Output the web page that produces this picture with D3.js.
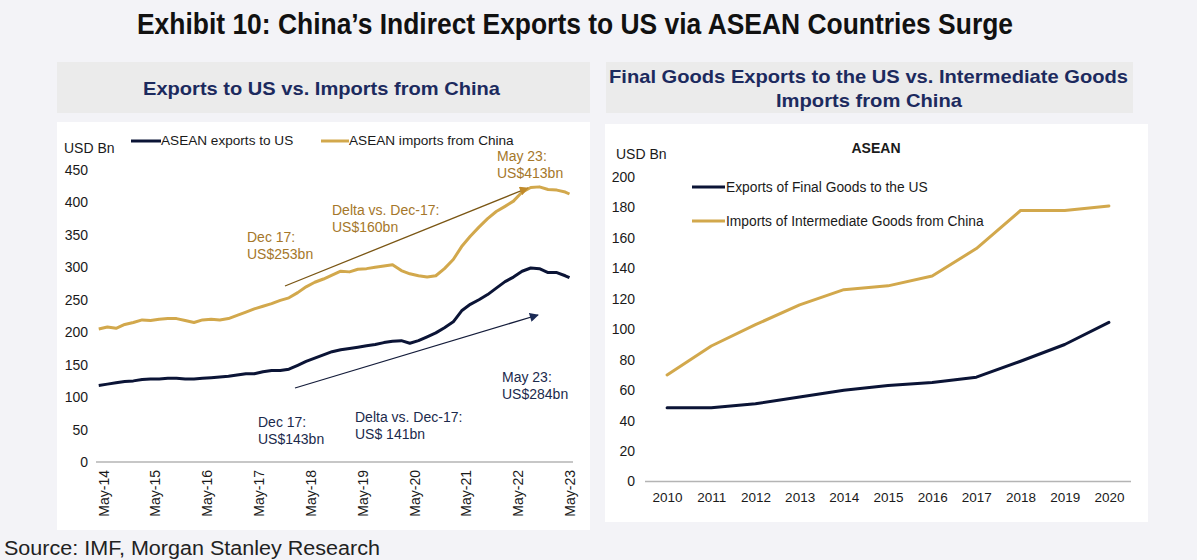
<!DOCTYPE html>
<html>
<head>
<meta charset="utf-8">
<script src="https://cdn.jsdelivr.net/npm/d3@7"></script>
<style>
  html, body { margin: 0; padding: 0; background: #f3f3f7; }
  svg { display: block; font-family: "Liberation Sans", Arial, Helvetica, sans-serif; }
</style>
</head>
<body>
<svg id="chart" width="1197" height="560"></svg>
<script>
// ---- Left panel: ASEAN trade, USD bn (rolling annual totals) ----
const months = [
  "2014-04","2014-06","2014-08","2014-10","2014-12",
  "2015-02","2015-04","2015-06","2015-08","2015-10","2015-12",
  "2016-02","2016-04","2016-06","2016-08","2016-10","2016-12",
  "2017-02","2017-04","2017-06","2017-08","2017-10","2017-12",
  "2018-02","2018-04","2018-06","2018-08","2018-10","2018-12",
  "2019-02","2019-04","2019-06","2019-08","2019-10","2019-12",
  "2020-02","2020-04","2020-06","2020-08","2020-10","2020-12",
  "2021-02","2021-04","2021-06","2021-08","2021-10","2021-12",
  "2022-02","2022-04","2022-06","2022-08","2022-10","2022-12",
  "2023-02","2023-04","2023-05"
];
const exportsToUS = [
  118,120,122,124,125,
  127,128,128,129,129,128,
  128,129,130,131,132,134,
  136,136,139,141,141,143,
  149,155,160,165,170,173,
  175,177,179,181,184,186,
  187,183,187,193,199,207,
  216,233,243,250,258,268,
  278,285,294,299,298,292,
  292,287,284
];
const importsFromChina = [
  205,208,206,212,215,
  219,218,220,221,221,218,
  215,219,220,219,221,226,
  231,236,240,244,249,253,
  261,270,277,282,288,294,
  293,297,298,300,302,304,
  295,290,287,285,287,298,
  312,332,348,362,375,386,
  394,402,416,423,424,420,
  419,416,413
];
const leftXTicks = ["2014-05","2015-05","2016-05","2017-05","2018-05","2019-05","2020-05","2021-05","2022-05","2023-05"];
const leftYTicks = [0,50,100,150,200,250,300,350,400,450];

// ---- Right panel: ASEAN final vs intermediate goods, USD bn ----
const years = ["2010","2011","2012","2013","2014","2015","2016","2017","2018","2019","2020"];
const finalGoodsExportsUS = [48.5,48.5,51,55.5,60,63,65,68.5,79,90,104.5];
const intermediateImportsChina = [70,89,103,116,126,128.5,135,153,178,178,181];
const rightYTicks = [0,20,40,60,80,100,120,140,160,180,200];

const NAVY = "#0b1436";
const GOLD = "#d2a84c";
const GOLD_TEXT = "#a5772a";
const NAVY_TEXT = "#1b2a4c";
const INK = "#1a1a1a";

const svg = d3.select("#chart");
const parseMonth = d3.timeParse("%Y-%m");

// Page heading
svg.append("text")
  .attr("x", 575).attr("y", 34)
  .attr("text-anchor", "middle")
  .attr("textLength", 876).attr("lengthAdjust", "spacingAndGlyphs")
  .style("font-family", "'Liberation Sans Narrow', 'Arial Narrow', 'Liberation Sans', Arial, sans-serif")
  .style("font-weight", "bold").style("font-size", "29px").attr("fill", "#111")
  .text("Exhibit 10: China\u2019s Indirect Exports to US via ASEAN Countries Surge");

// Sub-heading boxes
svg.append("rect").attr("x", 57).attr("y", 62).attr("width", 533).attr("height", 51).attr("fill", "#ebebeb");
svg.append("rect").attr("x", 606).attr("y", 62).attr("width", 527).attr("height", 51).attr("fill", "#ebebeb");

const subStyle = sel => sel
  .attr("text-anchor", "middle")
  .attr("lengthAdjust", "spacingAndGlyphs")
  .style("font-family", "'Liberation Sans Narrow', 'Arial Narrow', 'Liberation Sans', Arial, sans-serif")
  .style("font-weight", "bold").style("font-size", "19px").attr("fill", "#1c2a5e");

svg.append("text").attr("x", 321.5).attr("y", 95).attr("textLength", 357)
  .call(subStyle).text("Exports to US vs. Imports from China");
svg.append("text").attr("x", 868.5).attr("y", 83).attr("textLength", 519)
  .call(subStyle).text("Final Goods Exports to the US vs. Intermediate Goods");
svg.append("text").attr("x", 869).attr("y", 107).attr("textLength", 186)
  .call(subStyle).text("Imports from China");

// White chart panels
svg.append("rect").attr("x", 57).attr("y", 122).attr("width", 533).attr("height", 408).attr("fill", "#ffffff");
svg.append("rect").attr("x", 605).attr("y", 124).attr("width", 543).attr("height", 398).attr("fill", "#ffffff");

// ================= Left chart =================
const left = svg.append("g");
const xL = d3.scaleTime()
  .domain([parseMonth("2014-05"), parseMonth("2023-05")])
  .range([103, 569.5]);
const yL = d3.scaleLinear().domain([0, 450]).range([462, 170]);

const yAxisL = left.append("g").attr("transform", "translate(98,0)")
  .call(d3.axisLeft(yL).tickValues(leftYTicks).tickSize(0).tickPadding(10));
yAxisL.select(".domain").remove();
yAxisL.selectAll("text").style("font-size", "14px").attr("fill", INK)
  .style("font-family", "'Liberation Sans', Arial, sans-serif");

const xAxisL = left.append("g").attr("transform", `translate(0,${yL(0)})`)
  .call(d3.axisBottom(xL).tickValues(leftXTicks.map(parseMonth))
    .tickFormat(d3.timeFormat("%b-%y")).tickSize(0));
xAxisL.select(".domain").remove();
xAxisL.selectAll("text")
  .attr("transform", "rotate(-90)")
  .attr("text-anchor", "end")
  .attr("x", -8).attr("y", 0).attr("dy", "0.36em")
  .style("font-size", "14px").attr("fill", INK)
  .style("font-family", "'Liberation Sans', Arial, sans-serif");

left.append("line")
  .attr("x1", 96).attr("x2", 573).attr("y1", yL(0)).attr("y2", yL(0))
  .attr("stroke", "#b4b4b4").attr("stroke-width", 1.5);

left.append("text").attr("x", 64).attr("y", 153)
  .style("font-size", "14px").attr("fill", INK).text("USD Bn");

const monthDates = months.map(parseMonth);
const lineL = d3.line().x((d, i) => xL(monthDates[i])).y(d => yL(d));

left.append("path").datum(importsFromChina)
  .attr("d", lineL).attr("fill", "none")
  .attr("stroke", GOLD).attr("stroke-width", 3).attr("stroke-linejoin", "round");
left.append("path").datum(exportsToUS)
  .attr("d", lineL).attr("fill", "none")
  .attr("stroke", NAVY).attr("stroke-width", 3).attr("stroke-linejoin", "round");

// Legend
left.append("line").attr("x1", 131).attr("x2", 161).attr("y1", 141).attr("y2", 141)
  .attr("stroke", NAVY).attr("stroke-width", 3);
left.append("text").attr("x", 161).attr("y", 145)
  .style("font-size", "13.6px").attr("fill", INK).text("ASEAN exports to US");
left.append("line").attr("x1", 321).attr("x2", 349).attr("y1", 141).attr("y2", 141)
  .attr("stroke", GOLD).attr("stroke-width", 3);
left.append("text").attr("x", 349).attr("y", 145)
  .style("font-size", "13.6px").attr("fill", INK).text("ASEAN imports from China");

// Arrow markers
const defs = svg.append("defs");
defs.append("marker").attr("id", "arrowGold")
  .attr("viewBox", "0 0 10 10").attr("refX", 9).attr("refY", 5)
  .attr("markerWidth", 10).attr("markerHeight", 9).attr("markerUnits", "userSpaceOnUse")
  .attr("orient", "auto")
  .append("path").attr("d", "M0,0 L10,5 L0,10 Z").attr("fill", "#c08a2a");
defs.append("marker").attr("id", "arrowNavy")
  .attr("viewBox", "0 0 10 10").attr("refX", 9).attr("refY", 5)
  .attr("markerWidth", 10).attr("markerHeight", 9).attr("markerUnits", "userSpaceOnUse")
  .attr("orient", "auto")
  .append("path").attr("d", "M0,0 L10,5 L0,10 Z").attr("fill", "#1b2a55");

left.append("line").attr("x1", 285).attr("y1", 286).attr("x2", 528).attr("y2", 188)
  .attr("stroke", "#7a5614").attr("stroke-width", 1.3).attr("marker-end", "url(#arrowGold)");
left.append("line").attr("x1", 295).attr("y1", 388).attr("x2", 538).attr("y2", 315)
  .attr("stroke", "#141c3a").attr("stroke-width", 1.3).attr("marker-end", "url(#arrowNavy)");

const note = (x, y, lines, color) => {
  const t = left.append("text").attr("x", x).attr("y", y)
    .style("font-size", "14px").attr("fill", color);
  lines.forEach((s, i) => t.append("tspan").attr("x", x).attr("dy", i ? 17 : 0).text(s));
};
note(247, 242, ["Dec 17:", "US$253bn"], GOLD_TEXT);
note(332, 215, ["Delta vs. Dec-17:", "US$160bn"], GOLD_TEXT);
note(497, 161, ["May 23:", "US$413bn"], GOLD_TEXT);
note(258, 427, ["Dec 17:", "US$143bn"], NAVY_TEXT);
note(355, 422, ["Delta vs. Dec-17:", "US$ 141bn"], NAVY_TEXT);
note(502, 382, ["May 23:", "US$284bn"], NAVY_TEXT);

// ================= Right chart =================
const right = svg.append("g");
const xR = d3.scalePoint().domain(years).range([645, 1131]).padding(0.5);
const yR = d3.scaleLinear().domain([0, 200]).range([481.5, 177]);

const yAxisR = right.append("g").attr("transform", "translate(645,0)")
  .call(d3.axisLeft(yR).tickValues(rightYTicks).tickSize(0).tickPadding(10));
yAxisR.select(".domain").remove();
yAxisR.selectAll("text").style("font-size", "14px").attr("fill", INK)
  .style("font-family", "'Liberation Sans', Arial, sans-serif");

const xAxisR = right.append("g").attr("transform", `translate(0,${yR(0)})`)
  .call(d3.axisBottom(xR).tickSize(0).tickPadding(11));
xAxisR.select(".domain").remove();
xAxisR.selectAll("text").style("font-size", "13.5px").attr("fill", INK)
  .style("font-family", "'Liberation Sans', Arial, sans-serif");

right.append("line")
  .attr("x1", 645).attr("x2", 1131).attr("y1", yR(0)).attr("y2", yR(0))
  .attr("stroke", "#b4b4b4").attr("stroke-width", 1.5);

right.append("text").attr("x", 616).attr("y", 159)
  .style("font-size", "14px").attr("fill", INK).text("USD Bn");
right.append("text").attr("x", 876).attr("y", 153).attr("text-anchor", "middle")
  .style("font-size", "14px").style("font-weight", "bold").attr("fill", INK).text("ASEAN");

const lineR = d3.line().x((d, i) => xR(years[i])).y(d => yR(d));
right.append("path").datum(intermediateImportsChina)
  .attr("d", lineR).attr("fill", "none")
  .attr("stroke", GOLD).attr("stroke-width", 3).attr("stroke-linejoin", "round").attr("stroke-linecap", "round");
right.append("path").datum(finalGoodsExportsUS)
  .attr("d", lineR).attr("fill", "none")
  .attr("stroke", NAVY).attr("stroke-width", 3).attr("stroke-linejoin", "round").attr("stroke-linecap", "round");

right.append("line").attr("x1", 692).attr("x2", 725).attr("y1", 187).attr("y2", 187)
  .attr("stroke", NAVY).attr("stroke-width", 3);
right.append("text").attr("x", 726).attr("y", 192)
  .style("font-size", "13.8px").attr("fill", INK).text("Exports of Final Goods to the US");
right.append("line").attr("x1", 692).attr("x2", 725).attr("y1", 221).attr("y2", 221)
  .attr("stroke", GOLD).attr("stroke-width", 3);
right.append("text").attr("x", 726).attr("y", 226)
  .style("font-size", "13.8px").attr("fill", INK).text("Imports of Intermediate Goods from China");

// Source line
svg.append("text").attr("x", 4).attr("y", 555)
  .attr("textLength", 376).attr("lengthAdjust", "spacingAndGlyphs")
  .style("font-size", "20px").attr("fill", "#222")
  .text("Source: IMF, Morgan Stanley Research");
</script>
</body>
</html>
